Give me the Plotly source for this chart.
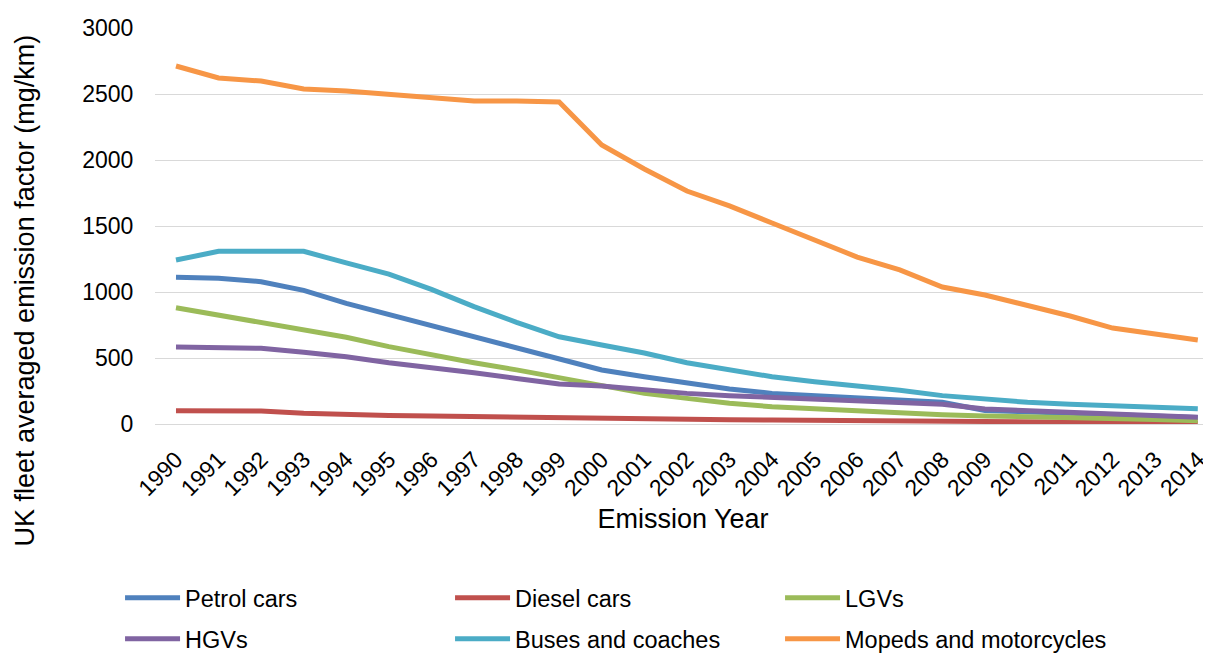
import plotly.graph_objects as go

years = [str(y) for y in range(1990, 2015)]

petrol = [1112, 1105, 1078, 1012, 914, 831, 750, 661, 578, 498, 409, 358, 308, 265, 232, 214, 199, 182, 165, 102, 92, 82, 72, 58, 50]
diesel = [101, 101, 99, 81, 70, 64, 60, 55, 52, 50, 45, 42, 38, 33, 30, 27, 25, 22, 20, 18, 16, 14, 12, 10, 8]
lgvs = [881, 826, 775, 712, 657, 586, 523, 464, 410, 351, 283, 232, 194, 157, 131, 114, 98, 81, 70, 61, 56, 50, 44, 35, 25]
hgvs = [583, 578, 573, 543, 510, 464, 430, 389, 345, 303, 288, 258, 232, 214, 202, 192, 182, 167, 150, 114, 101, 89, 76, 57, 51]
buses = [1242, 1308, 1308, 1308, 1220, 1136, 1020, 889, 770, 661, 598, 538, 464, 409, 358, 320, 290, 255, 215, 187, 164, 149, 136, 120, 116]
mopeds = [2712, 2621, 2598, 2538, 2523, 2500, 2477, 2447, 2447, 2439, 2114, 1932, 1765, 1652, 1523, 1394, 1265, 1167, 1038, 977, 902, 818, 727, 682, 636]

series = [
    ("Petrol cars", petrol, "#4F81BD", "legend"),
    ("Diesel cars", diesel, "#C0504D", "legend"),
    ("LGVs", lgvs, "#9BBB59", "legend"),
    ("HGVs", hgvs, "#8064A2", "legend2"),
    ("Buses and coaches", buses, "#4BACC6", "legend2"),
    ("Mopeds and motorcycles", mopeds, "#F79646", "legend2"),
]

font_family = "Arial, Liberation Sans, sans-serif"

fig = go.Figure()
for name, vals, color, leg in series:
    fig.add_trace(go.Scatter(x=years, y=vals, name=name, mode="lines", legend=leg,
                             line=dict(color=color, width=5)))

leg_common = dict(orientation="h", x=-0.0331, xanchor="left", yanchor="middle",
                  entrywidth=260, entrywidthmode="pixels", itemwidth=55,
                  font=dict(size=23.5, family=font_family, color="#000000"),
                  traceorder="normal", bgcolor="rgba(0,0,0,0)")

fig.update_layout(
    width=1203, height=645,
    margin=dict(l=147, r=0, t=20, b=229, autoexpand=False),
    paper_bgcolor="white", plot_bgcolor="white",
    font=dict(family=font_family, size=23, color="#000000"),
    showlegend=True,
    legend=dict(leg_common, y=-0.4394),
    legend2=dict(leg_common, y=-0.5429),
    xaxis=dict(type="category", tickangle=-45, showgrid=False, showline=False,
               ticks="outside", ticklen=12, tickcolor="rgba(0,0,0,0)",
               tickfont=dict(size=23), automargin=False,
               title=dict(text="Emission Year", font=dict(size=27), standoff=9),
               range=[-0.493, 24.31]),
    yaxis=dict(range=[0, 3000], dtick=500, showgrid=True, gridcolor="#D9D9D9", gridwidth=1,
               zeroline=True, zerolinecolor="#D9D9D9", zerolinewidth=1,
               ticks="outside", ticklen=16, tickcolor="rgba(0,0,0,0)",
               tickfont=dict(size=23), automargin=False),
    annotations=[dict(text="UK fleet averaged emission factor (mg/km)", textangle=-90,
                      xref="paper", yref="paper", x=-0.1231, y=0.3371,
                      xanchor="center", yanchor="middle", showarrow=False,
                      font=dict(size=27, family=font_family, color="#000000"))],
)

fig.write_html("out.html")
